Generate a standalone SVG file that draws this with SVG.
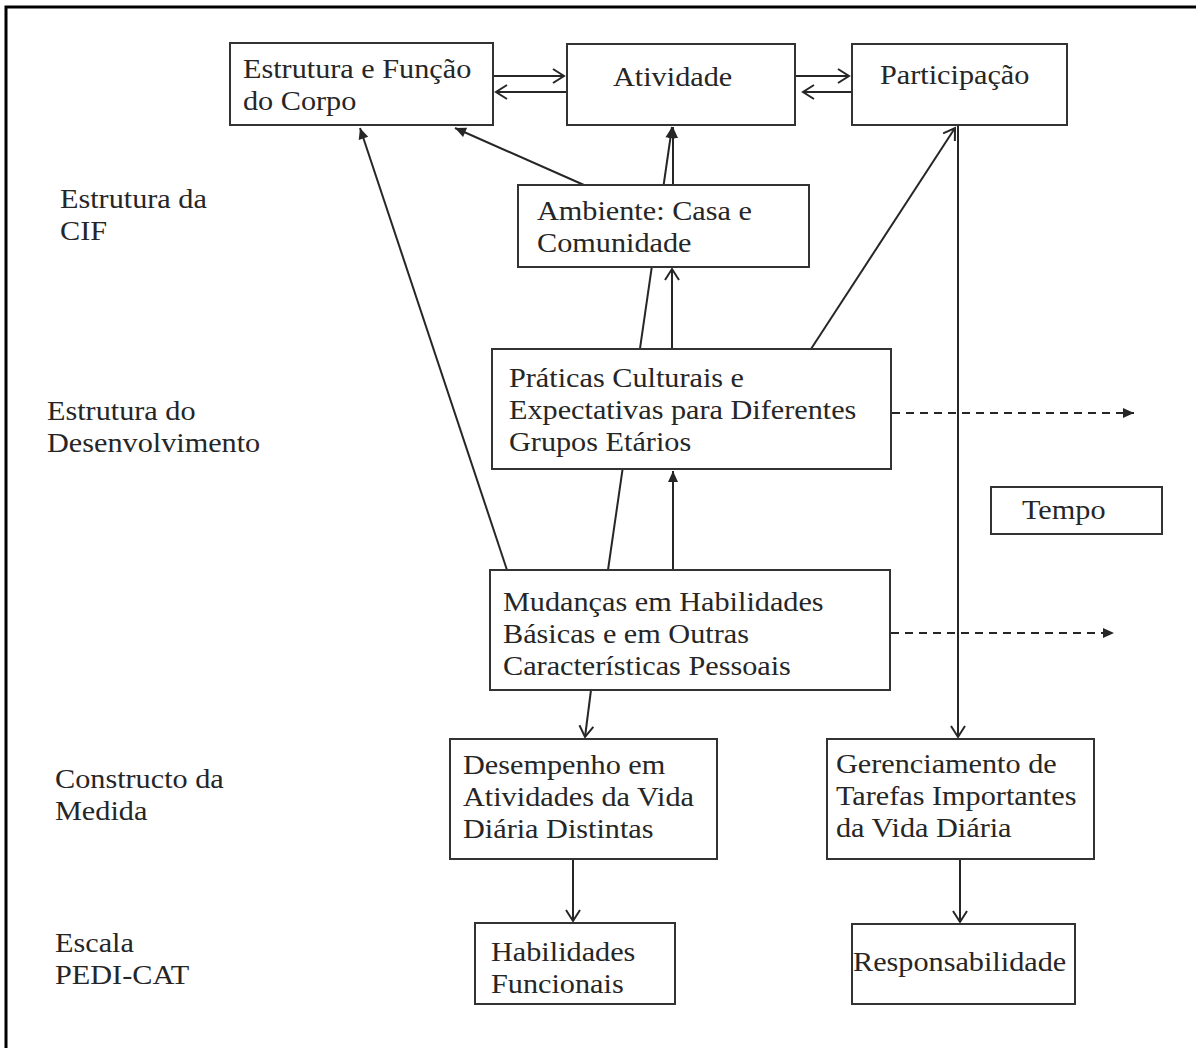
<svg xmlns="http://www.w3.org/2000/svg" width="1196" height="1048" viewBox="0 0 1196 1048">
<style>
.t{font-family:"Liberation Serif","Times New Roman",serif;font-size:28px;fill:#262626}
.b{fill:#fff;stroke:#333;stroke-width:2}
.c{fill:none;stroke:#262626;stroke-width:2}
.d{fill:none;stroke:#262626;stroke-width:2;stroke-dasharray:8 6}
</style>
<defs>
<marker id="o" markerUnits="userSpaceOnUse" markerWidth="16" markerHeight="16" viewBox="0 0 16 16" refX="13" refY="8" orient="auto">
<path d="M2,1 L13,8 L2,15" fill="none" stroke="#262626" stroke-width="2"/>
</marker>
<marker id="f" markerUnits="userSpaceOnUse" markerWidth="14" markerHeight="14" viewBox="0 0 14 14" refX="12" refY="7" orient="auto">
<path d="M1,2 L12,7 L1,12 Z" fill="#262626"/>
</marker>
</defs>
<rect x="6" y="7" width="1210" height="1060" fill="#fff" stroke="#000" stroke-width="3"/>
<g id="connectors">
<line class="c" x1="493" y1="76" x2="564" y2="76" marker-end="url(#o)"/>
<line class="c" x1="567" y1="92" x2="496" y2="92" marker-end="url(#o)"/>
<line class="c" x1="795" y1="76" x2="849" y2="76" marker-end="url(#o)"/>
<line class="c" x1="852" y1="92" x2="803" y2="92" marker-end="url(#o)"/>
<line class="c" x1="507" y1="570" x2="360" y2="128" marker-end="url(#f)"/>
<line class="c" x1="584" y1="185" x2="455" y2="128" marker-end="url(#f)"/>
<line class="c" x1="608" y1="570" x2="672" y2="127" marker-end="url(#f)"/>
<line class="c" x1="673" y1="185" x2="673" y2="127" marker-end="url(#f)"/>
<line class="c" x1="672" y1="349" x2="672" y2="269" marker-end="url(#o)"/>
<line class="c" x1="673" y1="570" x2="673" y2="471" marker-end="url(#f)"/>
<line class="c" x1="811" y1="349" x2="955" y2="128" marker-end="url(#o)"/>
<line class="c" x1="958" y1="125" x2="958" y2="737" marker-end="url(#o)"/>
<line class="c" x1="591" y1="690" x2="585" y2="737" marker-end="url(#o)"/>
<line class="c" x1="573" y1="859" x2="573" y2="921" marker-end="url(#o)"/>
<line class="c" x1="960" y1="859" x2="960" y2="922" marker-end="url(#o)"/>
<line class="d" x1="892" y1="413" x2="1134" y2="413" marker-end="url(#f)"/>
<line class="d" x1="891" y1="633" x2="1114" y2="633" marker-end="url(#f)"/>
</g>
<g id="corpo"><rect class="b" x="230" y="43" width="263" height="82"/>
<text class="t" transform="translate(243,78) scale(1.08,1)">Estrutura e Função</text>
<text class="t" transform="translate(243,110) scale(1.08,1)">do Corpo</text></g>
<g id="atividade"><rect class="b" x="567" y="44" width="228" height="81"/>
<text class="t" transform="translate(613,86) scale(1.08,1)">Atividade</text></g>
<g id="participacao"><rect class="b" x="852" y="44" width="215" height="81"/>
<text class="t" transform="translate(880,84) scale(1.08,1)">Participação</text></g>
<g id="ambiente"><rect class="b" x="518" y="185" width="291" height="82"/>
<text class="t" transform="translate(537,220) scale(1.08,1)">Ambiente: Casa e</text>
<text class="t" transform="translate(537,252) scale(1.08,1)">Comunidade</text></g>
<g id="praticas"><rect class="b" x="492" y="349" width="399" height="120"/>
<text class="t" transform="translate(509,387) scale(1.08,1)">Práticas Culturais e</text>
<text class="t" transform="translate(509,419) scale(1.08,1)">Expectativas para Diferentes</text>
<text class="t" transform="translate(509,451) scale(1.08,1)">Grupos Etários</text></g>
<g id="tempo"><rect class="b" x="991" y="487" width="171" height="47"/>
<text class="t" transform="translate(1022,519) scale(1.08,1)">Tempo</text></g>
<g id="mudancas"><rect class="b" x="490" y="570" width="400" height="120"/>
<text class="t" transform="translate(503,611) scale(1.08,1)">Mudanças em Habilidades</text>
<text class="t" transform="translate(503,643) scale(1.08,1)">Básicas e em Outras</text>
<text class="t" transform="translate(503,675) scale(1.08,1)">Características Pessoais</text></g>
<g id="desempenho"><rect class="b" x="450" y="739" width="267" height="120"/>
<text class="t" transform="translate(463,774) scale(1.08,1)">Desempenho em</text>
<text class="t" transform="translate(463,806) scale(1.08,1)">Atividades da Vida</text>
<text class="t" transform="translate(463,838) scale(1.08,1)">Diária Distintas</text></g>
<g id="gerenciamento"><rect class="b" x="827" y="739" width="267" height="120"/>
<text class="t" transform="translate(836,773) scale(1.08,1)">Gerenciamento de</text>
<text class="t" transform="translate(836,805) scale(1.08,1)">Tarefas Importantes</text>
<text class="t" transform="translate(836,837) scale(1.08,1)">da Vida Diária</text></g>
<g id="habilidades"><rect class="b" x="475" y="923" width="200" height="81"/>
<text class="t" transform="translate(491,961) scale(1.08,1)">Habilidades</text>
<text class="t" transform="translate(491,993) scale(1.08,1)">Funcionais</text></g>
<g id="responsabilidade"><rect class="b" x="852" y="924" width="223" height="80"/>
<text class="t" transform="translate(853,971) scale(1.08,1)">Responsabilidade</text></g>
<g id="labels">
<text class="t" transform="translate(60,208) scale(1.08,1)">Estrutura da</text>
<text class="t" transform="translate(60,240) scale(1.08,1)">CIF</text>
<text class="t" transform="translate(47,420) scale(1.08,1)">Estrutura do</text>
<text class="t" transform="translate(47,452) scale(1.08,1)">Desenvolvimento</text>
<text class="t" transform="translate(55,788) scale(1.08,1)">Constructo da</text>
<text class="t" transform="translate(55,820) scale(1.08,1)">Medida</text>
<text class="t" transform="translate(55,952) scale(1.08,1)">Escala</text>
<text class="t" transform="translate(55,984) scale(1.08,1)">PEDI-CAT</text>
</g>
</svg>
